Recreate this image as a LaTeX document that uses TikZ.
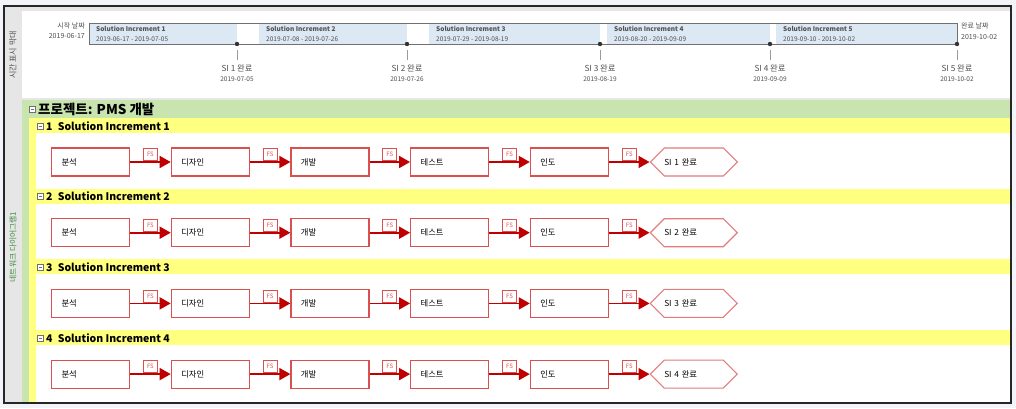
\documentclass[tikz,border=0pt]{standalone}
\usepackage{fontspec}
\setmainfont{Noto Sans CJK KR}
\usetikzlibrary{arrows.meta,shapes.symbols}
\definecolor{pagebg}{RGB}{243,243,250}
\definecolor{stripgray}{RGB}{230,230,230}
\definecolor{linegray}{RGB}{112,112,112}
\definecolor{textgray}{RGB}{80,80,80}
\definecolor{barblue}{RGB}{221,232,245}
\definecolor{projgreen}{RGB}{200,229,176}
\definecolor{labelgreen}{RGB}{60,140,60}
\definecolor{rowyellow}{RGB}{255,255,128}
\definecolor{boxred}{RGB}{218,80,80}
\definecolor{arrowred}{RGB}{192,0,0}
\begin{document}
\begin{tikzpicture}[
  taskbox/.style={draw=boxred,line width=1.1pt,fill=white,anchor=west,minimum height=28pt,
    text width=58pt,inner xsep=10pt,inner ysep=0pt,align=left,font=\fontsize{8.3}{9}\selectfont},
  milebox/.style={draw=boxred!75,line width=1.1pt,fill=white,anchor=west,shape=signal,
    signal from=nowhere,signal to=west and east,signal pointer angle=90,minimum height=28pt,
    text width=59pt,inner xsep=0pt,inner ysep=0pt,align=left,font=\fontsize{8.3}{9}\selectfont},
  fslink/.style={draw=arrowred,line width=1.6pt,-{Triangle[length=11pt,width=12pt]}},
  fsbox/.style={draw=boxred,fill=white,line width=0.7pt,text=boxred,inner sep=0pt,
    minimum width=14pt,minimum height=12pt,font=\fontsize{6}{6}\selectfont},
  tinytext/.style={text=textgray,inner sep=0pt,font=\fontsize{6.5}{7}\selectfont},
  collapse/.style={draw=linegray,fill=white,line width=0.5pt}
]
\pgfsetxvec{\pgfpoint{1pt}{0}}
\pgfsetyvec{\pgfpoint{0}{-1pt}}
  % frame
  \fill[pagebg] (0,0) rectangle (1016,408);
  \draw[draw=black!85,fill=white,line width=1.2pt] (4,6) rectangle (1011,403);
  \fill[stripgray] (4.6,6.6) rectangle (22,402.4);
  \fill[stripgray] (4.6,6.6) rectangle (1010.4,11);
  \fill[stripgray] (22,97.5) rectangle (1010.4,100);
  \node[rotate=90,text=textgray,font=\fontsize{8}{8}\selectfont] (tlabel) at (13,55) {시간 표시 막대};
  \node[rotate=90,text=labelgreen,font=\fontsize{7.8}{8}\selectfont] (nlabel) at (13,247) {네트워크 다이어그램1};
  % timeline
  \fill[barblue] (89,23) rectangle (237,44);
  \fill[barblue] (259,23) rectangle (407,44);
  \fill[barblue] (429,23) rectangle (600,44);
  \fill[barblue] (607,23) rectangle (770,44);
  \fill[barblue] (776,23) rectangle (957,44);
  \draw[linegray,line width=0.7pt] (89,44) -- (89,23) -- (957,23) -- (957,44) -- cycle;
  \foreach \x/\n/\d in {89/1/2019-06-17 - 2019-07-05,259/2/2019-07-08 - 2019-07-26,
      429/3/2019-07-29 - 2019-08-19,607/4/2019-08-20 - 2019-09-09,776/5/2019-09-10 - 2019-10-02}{
    \node[tinytext,anchor=west,font=\fontsize{6.5}{7}\selectfont\bfseries] at (\x+7,29) {Solution Increment \n};
    \node[tinytext,anchor=west] at (\x+7,39) {\d};
  }
  \node[tinytext,anchor=east,font=\fontsize{7}{7}\selectfont] (start) at (85,25.5) {시작 날짜};
  \node[tinytext,anchor=east,font=\fontsize{7}{7}\selectfont] (startd) at (85,36) {2019-06-17};
  \node[tinytext,anchor=west,font=\fontsize{7}{7}\selectfont] (end) at (961,26) {완료 날짜};
  \node[tinytext,anchor=west,font=\fontsize{7}{7}\selectfont] (endd) at (961,37) {2019-10-02};
  \foreach \x/\n/\d in {237/1/2019-07-05,407/2/2019-07-26,600/3/2019-08-19,770/4/2019-09-09,957/5/2019-10-02}{
    \coordinate (ms\n) at (\x,44);
    \fill[black!80] (ms\n) circle (2.2);
    \draw[linegray!70,line width=0.7pt] (\x,50) -- (\x,60);
    \node[tinytext,font=\fontsize{8.3}{8}\selectfont] at (\x,68) {SI \n\ 완료};
    \node[tinytext] at (\x,79) {\d};
  }
  % network diagram
  \fill[projgreen] (22,100) rectangle (1010.4,118);
  \fill[projgreen] (22,100) rectangle (29,402.4);
  \fill[rowyellow] (29,118) rectangle (36,402.4);
  \draw[collapse] (29.5,106) rectangle (35,112);
  \draw[linegray,line width=0.5pt] (30.8,109) -- (33.7,109);
  \node[anchor=west,inner sep=0pt,font=\fontsize{13.5}{14}\selectfont\bfseries] (proj) at (38,109) {프로젝트: PMS 개발};
  \foreach \r in {1,2,3,4}{
    \pgfmathsetmacro{\yh}{118+70.7*(\r-1)}
    \pgfmathsetmacro{\yb}{\yh+44}
    \fill[rowyellow] (29,\yh) rectangle (1010.4,\yh+15);
    \draw[collapse] (37,\yh+5) rectangle (43,\yh+11);
    \draw[linegray,line width=0.5pt] (38.5,\yh+8) -- (41.5,\yh+8);
    \node[anchor=west,inner sep=0pt,font=\fontsize{10.5}{11}\selectfont\bfseries] (sec\r) at (46,\yh+8) {\r\enspace Solution Increment \r};
    \node[taskbox] (t\r-1) at (51,\yb) {분석};
    \node[taskbox] (t\r-2) at (170.7,\yb) {디자인};
    \node[taskbox] (t\r-3) at (290.4,\yb) {개발};
    \node[taskbox] (t\r-4) at (410.1,\yb) {테스트};
    \node[taskbox] (t\r-5) at (529.8,\yb) {인도};
    \node[milebox] (t\r-6) at (649.5,\yb) {SI \r\ 완료};
    \foreach \a/\b in {1/2,2/3,3/4,4/5,5/6}{
      \draw[fslink] (t\r-\a.east) -- (t\r-\b.west) node[fsbox,midway,anchor=south,yshift=1pt] {FS};
    }
  }
\end{tikzpicture}
\end{document}
